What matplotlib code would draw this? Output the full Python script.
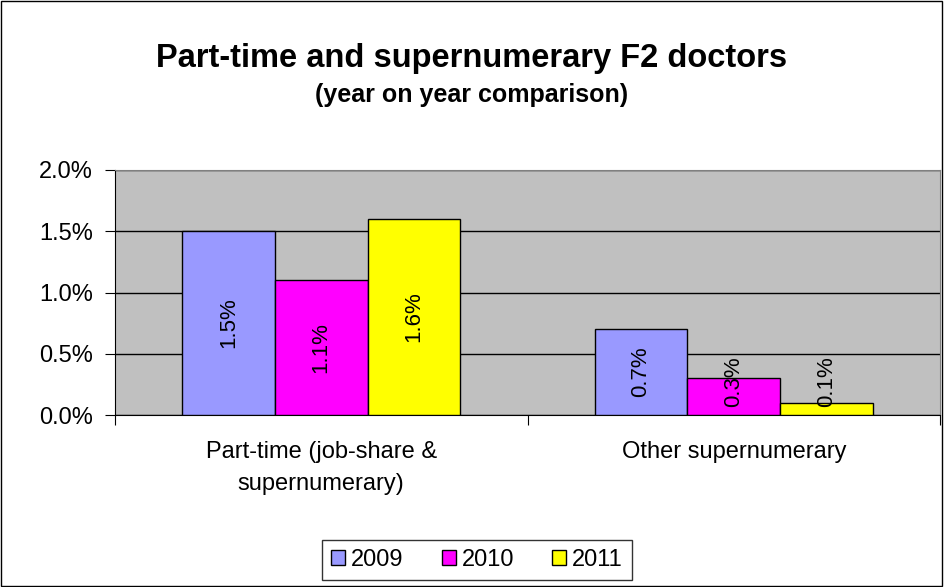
import matplotlib.pyplot as plt
from matplotlib.patches import Rectangle
import numpy as np

plt.rcParams['font.family'] = ['Liberation Sans', 'DejaVu Sans']

categorias = ['Part-time (job-share &\nsupernumerary)', 'Other supernumerary']
anios = ['2009', '2010', '2011']
valores = {
    '2009': [1.5, 0.7],
    '2010': [1.1, 0.3],
    '2011': [1.6, 0.1],
}
colores = ['#9999FF', '#FF00FF', '#FFFF00']

fig = plt.figure(figsize=(9.44, 5.87), dpi=100)
# borde exterior del grafico
fig.patches.append(Rectangle((0.001, 0.001), 0.997, 0.997, transform=fig.transFigure,
                             fill=False, edgecolor='black', linewidth=1))

ax = fig.add_axes([115/944, 1 - 415/587, (940-115)/944, (415-170)/587])
ax.set_facecolor('#C0C0C0')

x = np.arange(len(categorias))
ancho = 0.225
for i, anio in enumerate(anios):
    pos = x + (i - 1) * ancho
    ax.bar(pos, valores[anio], ancho, color=colores[i], edgecolor='black',
           linewidth=1, label=anio, zorder=3)
    for p, v in zip(pos, valores[anio]):
        ax.text(p, max(v / 2, 0.27), f'{v:.1f}%', rotation=90, ha='center',
                va='center', fontsize=16, zorder=4)

ax.set_xlim(-0.5, 1.5)
ax.set_ylim(0, 2.0)
ax.set_yticks([0, 0.5, 1.0, 1.5, 2.0])
ax.set_yticklabels([f'{t:.1f}%' for t in [0, 0.5, 1.0, 1.5, 2.0]], fontsize=17)
ax.yaxis.grid(True, color='black', linewidth=1, zorder=0)
ax.set_axisbelow(True)

ax.set_xticks([-0.5, 0.5, 1.5])
ax.set_xticklabels([])
ax.set_xticks(x, minor=True)
ax.set_xticklabels(categorias, minor=True, fontsize=17, linespacing=1.55)
ax.tick_params(axis='x', which='minor', length=0, pad=19)
ax.tick_params(axis='x', which='major', length=7, direction='out')
ax.tick_params(axis='y', length=7, direction='out', pad=9)

for lado in ['top', 'right']:
    ax.spines[lado].set_color('#808080')
ax.spines['left'].set_color('black')
ax.spines['bottom'].set_color('black')

fig.text(0.5, 1 - 58/587, 'Part-time and supernumerary F2 doctors', ha='center',
         va='center', fontsize=23.5, fontweight='bold')
fig.text(0.5, 1 - 95/587, '(year on year comparison)', ha='center',
         va='center', fontsize=18, fontweight='bold')

leg = fig.legend(loc='center', bbox_to_anchor=(477/944, 1 - 560/587), ncol=3,
                 fontsize=17, frameon=True, fancybox=False, handlelength=0.6,
                 handleheight=0.6, handletextpad=0.25, columnspacing=1.6,
                 borderpad=0.4, borderaxespad=0)
leg.get_frame().set_edgecolor('black')
leg.get_frame().set_linewidth(1)

fig.savefig('out.png', dpi=100)
